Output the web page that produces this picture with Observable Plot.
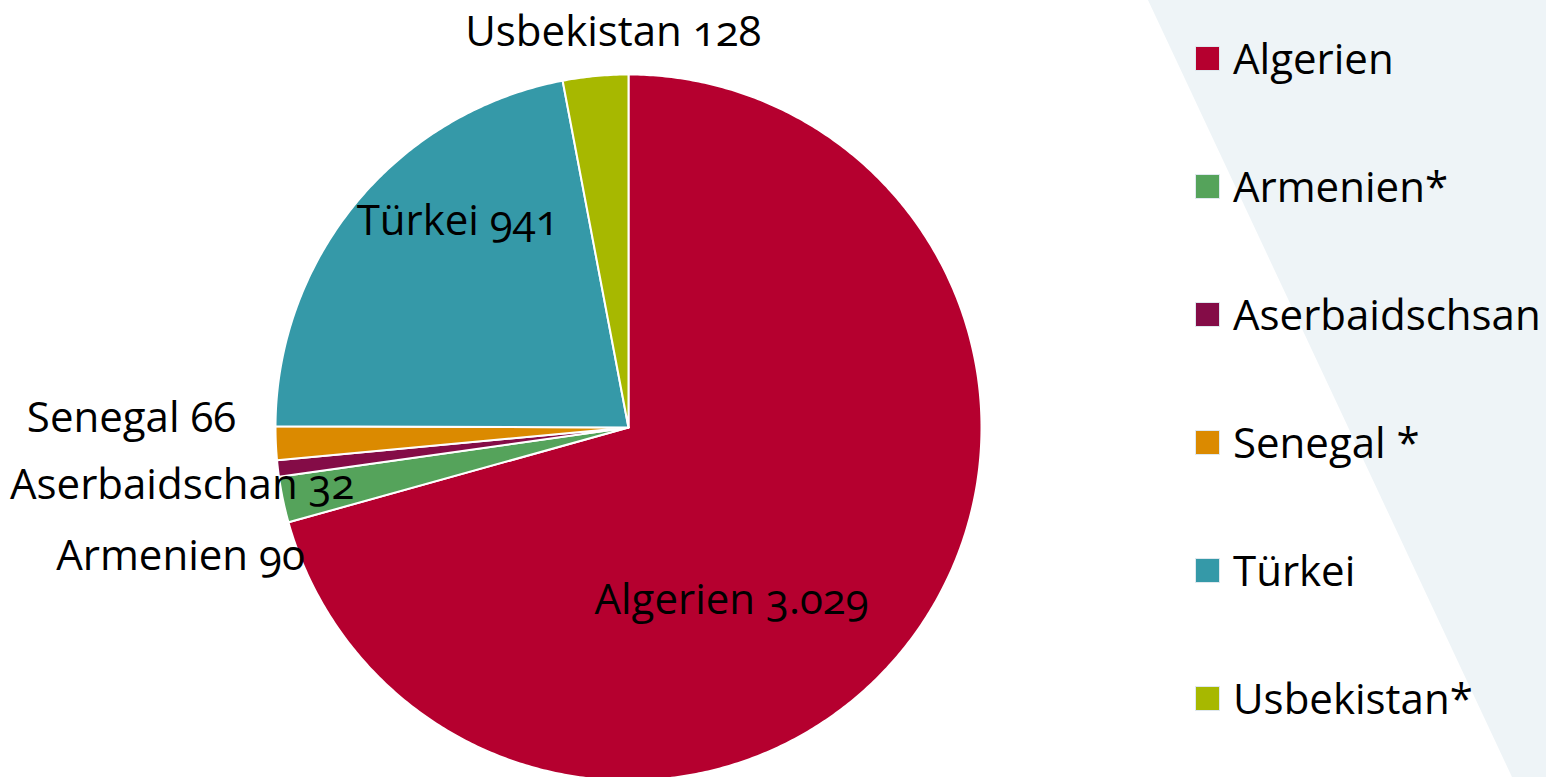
<!DOCTYPE html>
<html><head><meta charset="utf-8">
<script src="https://cdn.jsdelivr.net/npm/d3@7"></script>
<script src="https://cdn.jsdelivr.net/npm/@observablehq/plot@0.6"></script>
<style>
html,body{margin:0;padding:0;background:#fff;}
#wrap{position:relative;width:1546px;height:777px;overflow:hidden;font-family:"Open Sans",sans-serif;}
#band{position:absolute;left:0;top:0;width:1546px;height:777px;background:#eef4f7;clip-path:polygon(1148px 0,1546px 0,1546px 777px,1512px 777px);}
#chart{position:absolute;left:0;top:0;}
#chart text{font-variant-numeric:oldstyle-nums;}
#legend{position:absolute;left:1195px;top:-6px;}
.row{height:128px;display:flex;align-items:center;font-size:42px;line-height:1;color:#000;}
.sw{width:25px;height:25px;margin-right:13px;box-sizing:border-box;border:1px solid #dfe8ee;}
</style></head>
<body>
<div id="wrap"><div id="band"></div><div id="chart"></div><div id="legend"></div></div>
<script>
const countries = ["Algerien","Armenien","Aserbaidschan","Senegal","Türkei","Usbekistan"];
const values = [3029,90,32,66,941,128];
const legendLabels = ["Algerien","Armenien*","Aserbaidschsan","Senegal *","Türkei","Usbekistan*"];
const colors = ["#b5002f","#55a35b","#840c47","#db8a00","#3599a8","#a7b800"];

// layout
const W=1546,H=777,CX=628,CY=427,R=353;
const labelRadius=[0.570,1.321,1.275,1.408,0.758,1.119];
const labelAngle=[149.2,253.9,262.6,271.0,320.3,357.8];

const fmt=d3.formatLocale({decimal:",",thousands:".",grouping:[3],currency:["","€"]}).format(",d");
const total=d3.sum(values);
let cum=0;
const slices=values.map((v,i)=>{const a0=cum/total*360;cum+=v;const a1=cum/total*360;return {country:countries[i],value:v,a0,a1,i};});
const pts=[];
for(const s of slices){
  pts.push({country:s.country,x:0,y:0});
  const n=Math.max(2,Math.ceil((s.a1-s.a0)/0.5));
  for(let k=0;k<=n;k++){const a=(s.a0+(s.a1-s.a0)*k/n)*Math.PI/180;pts.push({country:s.country,x:Math.sin(a),y:Math.cos(a)});}
  pts.push({country:s.country,x:0,y:0});
}
const rad=Math.PI/180;
const chart=Plot.plot({
  width:W,height:H,margin:0,
  x:{domain:[-CX/R,(W-CX)/R],axis:null},
  y:{domain:[-(H-CY)/R,CY/R],axis:null},
  color:{domain:countries,range:colors},
  style:{background:"transparent",fontFamily:"Open Sans, sans-serif",overflow:"visible"},
  marks:[
    Plot.line(pts,{x:"x",y:"y",z:"country",fill:"country",stroke:"white",strokeWidth:2,strokeLinejoin:"round",curve:"linear"}),
    Plot.text(slices,{x:d=>labelRadius[d.i]*Math.sin(labelAngle[d.i]*rad),y:d=>labelRadius[d.i]*Math.cos(labelAngle[d.i]*rad),text:d=>`${d.country} ${fmt(d.value)}`,fontSize:42,fill:"black"})
  ]
});
document.getElementById("chart").appendChild(chart);
const lg=document.getElementById("legend");
legendLabels.forEach((l,i)=>{const r=document.createElement("div");r.className="row";const s=document.createElement("div");s.className="sw";s.style.background=colors[i];const t=document.createElement("span");t.textContent=l;r.appendChild(s);r.appendChild(t);lg.appendChild(r);});
</script>
</body></html>
